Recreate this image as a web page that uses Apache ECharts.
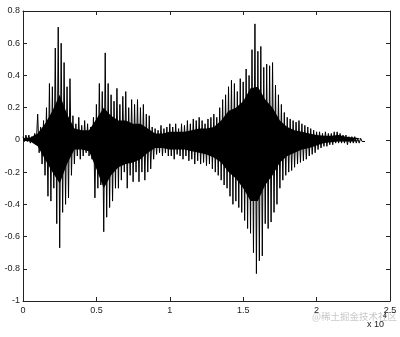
<!DOCTYPE html>
<html>
<head>
<meta charset="utf-8">
<script src="https://cdn.jsdelivr.net/npm/echarts@6/dist/echarts.min.js"></script>
<style>html,body{margin:0;padding:0;background:#fff}#c{width:400px;height:337px}</style>
</head>
<body>
<div id="c"></div>
<script>
// sample spacing between successive positive peaks (samples)
const sampleStep = 200;
// positive peak heights, one every sampleStep samples
const upperPeaks = [0.02,0.03,0.03,0.02,0.04,0.16,0.08,0.12,0.2,0.35,0.33,0.57,0.70,0.6,0.48,0.33,0.38,0.15,0.1,0.14,
  0.09,0.12,0.1,0.08,0.14,0.22,0.35,0.3,0.54,0.35,0.28,0.24,0.32,0.22,0.27,0.3,0.2,0.25,0.22,0.25,
  0.2,0.22,0.16,0.15,0.08,0.07,0.06,0.09,0.07,0.08,0.1,0.08,0.1,0.07,0.1,0.09,0.12,0.1,0.13,0.12,
  0.14,0.12,0.1,0.13,0.14,0.16,0.14,0.2,0.25,0.28,0.33,0.37,0.35,0.3,0.38,0.36,0.44,0.4,0.56,0.72,
  0.55,0.58,0.45,0.47,0.46,0.48,0.34,0.28,0.22,0.17,0.14,0.13,0.12,0.11,0.12,0.1,0.09,0.08,0.07,0.06,
  0.05,0.05,0.04,0.05,0.04,0.04,0.05,0.05,0.04,0.03,0.03,0.02,0.02,0.02,0.01,0.01,0.0];
// negative peak depths, halfway between the positive peaks
const lowerPeaks = [-0.01,-0.01,-0.02,-0.01,-0.03,-0.08,-0.15,-0.22,-0.35,-0.38,-0.3,-0.52,-0.67,-0.45,-0.4,-0.36,-0.22,-0.15,-0.1,-0.12,
  -0.1,-0.08,-0.1,-0.12,-0.36,-0.3,-0.28,-0.57,-0.48,-0.42,-0.38,-0.3,-0.3,-0.25,-0.2,-0.3,-0.22,-0.26,-0.2,-0.26,
  -0.2,-0.25,-0.2,-0.18,-0.12,-0.09,-0.08,-0.1,-0.08,-0.1,-0.1,-0.12,-0.09,-0.1,-0.12,-0.1,-0.13,-0.12,-0.15,-0.13,
  -0.15,-0.14,-0.16,-0.15,-0.18,-0.2,-0.22,-0.25,-0.28,-0.3,-0.35,-0.4,-0.38,-0.42,-0.45,-0.5,-0.55,-0.58,-0.7,-0.83,
  -0.75,-0.72,-0.52,-0.55,-0.51,-0.45,-0.4,-0.3,-0.25,-0.22,-0.2,-0.19,-0.17,-0.15,-0.14,-0.13,-0.12,-0.1,-0.09,-0.08,
  -0.06,-0.05,-0.04,-0.04,-0.03,-0.03,-0.02,-0.02,-0.02,-0.02,-0.03,-0.02,-0.02,-0.02,-0.02,-0.01,-0.01];
// spacing of the solid-black core readings (samples)
const coreStep = 500;
// top edge of the solid black body of the waveform
const coreUpper = [0.01,0.015,0.04,0.1,0.18,0.28,0.16,0.07,0.06,0.06,0.13,0.2,0.15,0.12,0.12,0.1,0.1,0.07,0.04,0.04,
  0.05,0.05,0.05,0.06,0.07,0.07,0.08,0.12,0.18,0.2,0.24,0.32,0.33,0.25,0.2,0.12,0.08,0.06,0.05,0.04,
  0.03,0.025,0.025,0.03,0.02,0.015,0.01];
// bottom edge of the solid black body of the waveform
const coreLower = [-0.005,-0.01,-0.04,-0.12,-0.2,-0.27,-0.15,-0.06,-0.06,-0.07,-0.18,-0.3,-0.22,-0.17,-0.15,-0.14,-0.12,-0.08,-0.05,-0.05,
  -0.06,-0.06,-0.06,-0.07,-0.08,-0.09,-0.11,-0.14,-0.2,-0.24,-0.3,-0.38,-0.38,-0.28,-0.22,-0.14,-0.1,-0.08,-0.06,-0.05,
  -0.035,-0.02,-0.015,-0.01,-0.01,-0.01,-0.005];
const xTickLabels = ['0','0.5','1','1.5','2','2.5'];
const yTickLabels = ['-1','-0.8','-0.6','-0.4','-0.2','0','0.2','0.4','0.6','0.8'];

const wave = [];
for (let i = 0; i < upperPeaks.length; i++) {
  wave.push([i * sampleStep, upperPeaks[i]]);
  if (i < lowerPeaks.length) wave.push([i * sampleStep + sampleStep / 2, lowerPeaks[i]]);
}
const coreTop = coreUpper.map((v, i) => [i * coreStep, v]);
const coreBottom = coreLower.map((v, i) => [i * coreStep, v]);

const font = 'Liberation Sans, Arial, sans-serif';
const axisLine = {show: true, onZero: false, lineStyle: {color: '#222', width: 1}};
const tick = {show: true, inside: true, length: 4, lineStyle: {color: '#222'}};
const chart = echarts.init(document.getElementById('c'), null, {renderer: 'canvas'});
chart.setOption({
  animation: false,
  backgroundColor: '#fff',
  grid: {left: 23, right: 10, top: 11, bottom: 36},
  xAxis: [{
    type: 'value', min: 0, max: 25000, interval: 5000,
    axisLine: axisLine, splitLine: {show: false}, axisTick: tick,
    axisLabel: {color: '#222', fontSize: 9, fontFamily: font, margin: 5,
      formatter: v => xTickLabels[Math.round(v / 5000)]}
  }, {
    type: 'value', position: 'top', min: 0, max: 25000, interval: 5000,
    axisLine: axisLine, splitLine: {show: false}, axisTick: tick,
    axisLabel: {show: false}
  }],
  yAxis: [{
    type: 'value', min: -1, max: 0.8, interval: 0.2,
    axisLine: axisLine, splitLine: {show: false}, axisTick: tick,
    axisLabel: {color: '#222', fontSize: 9, fontFamily: font, margin: 3,
      formatter: v => yTickLabels[Math.round((v + 1) / 0.2)]}
  }, {
    type: 'value', position: 'right', min: -1, max: 0.8, interval: 0.2,
    axisLine: axisLine, splitLine: {show: false}, axisTick: tick,
    axisLabel: {show: false}
  }],
  series: [{
    type: 'line', data: coreTop, showSymbol: false, symbol: 'none',
    lineStyle: {width: 0}, areaStyle: {color: '#000', opacity: 1, origin: 0}
  }, {
    type: 'line', data: coreBottom, showSymbol: false, symbol: 'none',
    lineStyle: {width: 0}, areaStyle: {color: '#000', opacity: 1, origin: 0}
  }, {
    type: 'line', data: wave, showSymbol: false, symbol: 'none',
    lineStyle: {color: '#000', width: 1}
  }],
  graphic: [{
    type: 'text', left: 312, top: 312,
    style: {text: '@稀土掘金技术社区', fontSize: 9.5, fontFamily: 'Noto Sans CJK SC', fill: '#c8c8c8'}
  }, {
    type: 'text', left: 367, top: 320,
    style: {text: 'x 10', fontSize: 9, fontFamily: font, fill: '#222'}
  }, {
    type: 'text', left: 383, top: 313,
    style: {text: '4', fontSize: 7, fontFamily: font, fill: '#222'}
  }]
});
</script>
</body>
</html>
